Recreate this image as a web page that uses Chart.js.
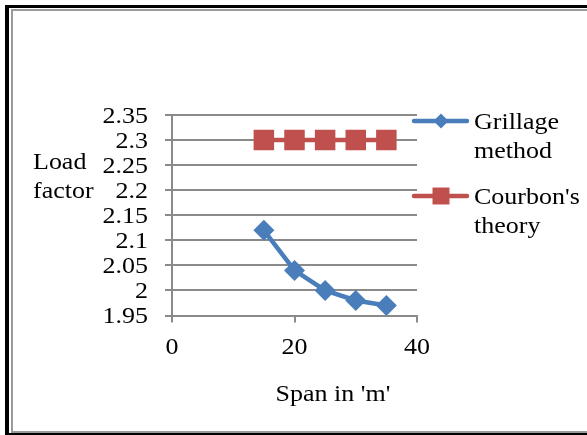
<!DOCTYPE html>
<html>
<head>
<meta charset="utf-8">
<script src="https://cdn.jsdelivr.net/npm/chart.js@4.4.1/dist/chart.umd.min.js"></script>
<style>
  html, body { margin: 0; padding: 0; background: #fff; }
  #wrap { position: relative; width: 587px; height: 435px; }
</style>
</head>
<body>
<div id="wrap"><canvas id="loadChart" width="587" height="435"></canvas></div>
<script>
// span (m) against load factor for the two methods
const spans = [15, 20, 25, 30, 35];
const grillage = [2.12, 2.04, 2.00, 1.98, 1.97];
const courbon = [2.3, 2.3, 2.3, 2.3, 2.3];
const seriesNames = [['Grillage', 'method'], ["Courbon's", 'theory']];
const yTitle = ['Load', 'factor'];
const xTitle = "Span in 'm'";

const blue = '#4a7ebb';
const red = '#c0504d';
const gridGray = '#8a8a8a';
const FONT = '23px "Liberation Serif", "Times New Roman", serif';
const STRETCH = 1.13;

function stretchText(ctx, text, x, y, align) {
    ctx.save();
    ctx.translate(x, y);
    ctx.scale(STRETCH, 1);
    ctx.textAlign = align;
    ctx.fillText(text, 0, 0);
    ctx.restore();
}

// double frame round the whole figure
const framePlugin = {
    id: 'frame',
    beforeDraw(chart) {
        const ctx = chart.ctx;
        ctx.save();
        ctx.fillStyle = '#000';
        ctx.fillRect(5, 5, 582, 3);
        ctx.fillRect(5, 5, 4, 430);
        ctx.fillRect(5, 433, 582, 2);
        ctx.fillStyle = '#9a9a9a';
        ctx.fillRect(11, 9, 576, 2);
        ctx.fillRect(11, 9, 2, 424);
        ctx.fillRect(11, 431, 576, 2);
        ctx.restore();
    }
};

// tick labels, axis titles and legend in serif text
const textPlugin = {
    id: 'serifText',
    afterDraw(chart) {
        const ctx = chart.ctx;
        const x = chart.scales.x, y = chart.scales.y;
        ctx.save();
        ctx.font = FONT;
        ctx.fillStyle = '#000';
        ctx.textBaseline = 'alphabetic';

        y.ticks.forEach(t => {
            const py = y.getPixelForValue(t.value);
            stretchText(ctx, String(Number(t.value.toFixed(2))), 148, py + 7.5, 'right');
        });
        x.ticks.forEach(t => {
            const px = x.getPixelForValue(t.value);
            stretchText(ctx, String(t.value), px, 354, 'center');
        });

        stretchText(ctx, yTitle[0], 33, 169, 'left');
        stretchText(ctx, yTitle[1], 33, 198, 'left');
        stretchText(ctx, xTitle, 333, 401, 'center');

        // legend entries
        const rows = [
            { y: 121, color: blue, style: 'rectRot', r: 7.5, text: seriesNames[0] },
            { y: 196, color: red, style: 'rect', r: 12, text: seriesNames[1] }
        ];
        rows.forEach(row => {
            ctx.strokeStyle = row.color;
            ctx.lineWidth = 4.5;
            ctx.lineCap = 'round';
            ctx.beginPath();
            ctx.moveTo(414, row.y);
            ctx.lineTo(467, row.y);
            ctx.stroke();
            ctx.fillStyle = row.color;
            Chart.helpers.drawPoint(ctx, { pointStyle: row.style, radius: row.r, borderWidth: 0 }, 441, row.y);
            ctx.fillStyle = '#000';
            stretchText(ctx, row.text[0], 474, row.y + 8, 'left');
            stretchText(ctx, row.text[1], 474, row.y + 37, 'left');
        });
        ctx.restore();
    }
};

new Chart(document.getElementById('loadChart'), {
    type: 'line',
    data: {
        datasets: [{
            label: 'Grillage method',
            data: spans.map((s, i) => ({ x: s, y: grillage[i] })),
            borderColor: blue,
            backgroundColor: blue,
            borderWidth: 4.5,
            pointStyle: 'rectRot',
            pointRadius: 10.5,
            pointBorderWidth: 0,
            tension: 0
        }, {
            label: "Courbon's theory",
            data: spans.map((s, i) => ({ x: s, y: courbon[i] })),
            borderColor: red,
            backgroundColor: red,
            borderWidth: 4.5,
            pointStyle: 'rect',
            pointRadius: 14.5,
            pointBorderWidth: 0,
            tension: 0
        }]
    },
    options: {
        responsive: false,
        animation: false,
        devicePixelRatio: 1,
        layout: {
            padding: { left: 0, top: 115, right: 170, bottom: 109.5 }
        },
        scales: {
            x: {
                type: 'linear',
                min: 0,
                max: 40,
                ticks: { display: false, stepSize: 20 },
                grid: { drawOnChartArea: false, drawTicks: true, tickLength: 7, color: gridGray, lineWidth: 2 },
                border: { color: gridGray, width: 2 },
                afterFit(scale) { scale.height = 10; }
            },
            y: {
                min: 1.95,
                max: 2.35,
                ticks: { display: false, stepSize: 0.05 },
                grid: { drawTicks: true, tickLength: 7, color: gridGray, lineWidth: 2 },
                border: { color: gridGray, width: 2 },
                afterFit(scale) { scale.width = 172; }
            }
        },
        plugins: {
            legend: { display: false },
            tooltip: { enabled: false }
        }
    },
    plugins: [framePlugin, textPlugin]
});
</script>
</body>
</html>
